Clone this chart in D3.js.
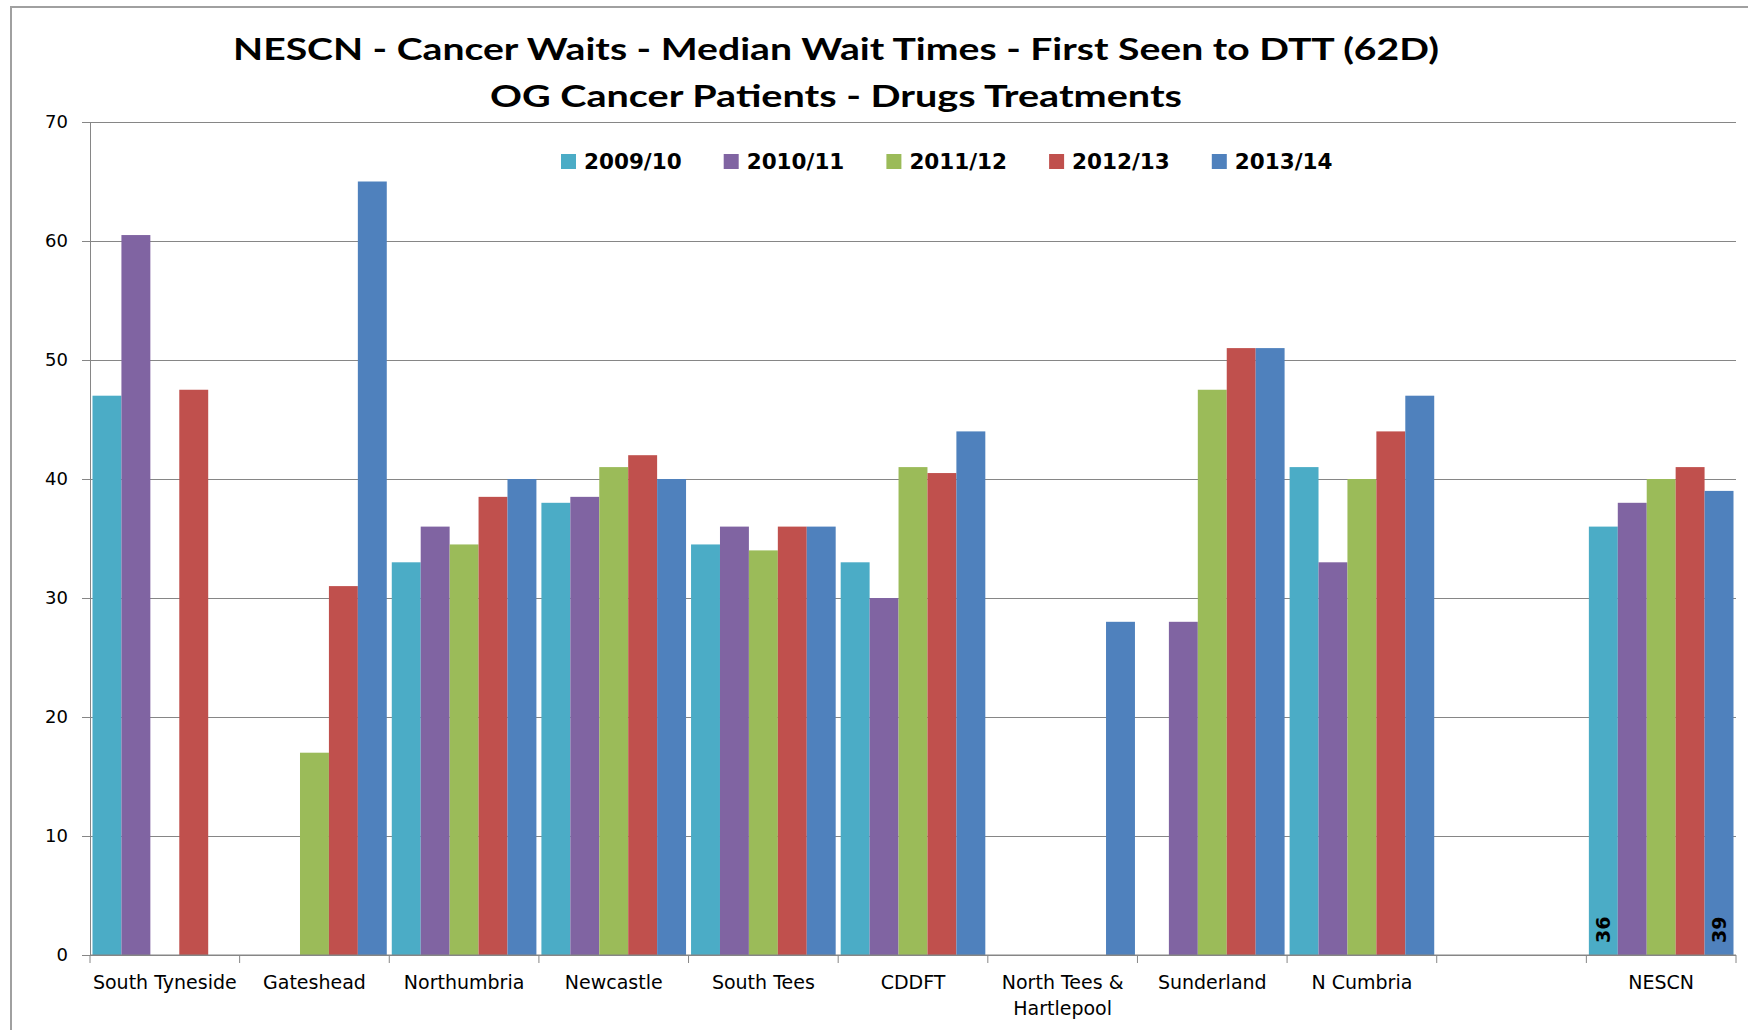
<html>
<head>
<script src="https://d3js.org/d3.v7.min.js"></script>
<style>
  body { margin: 0; background: #fff; }
  .grid line { stroke: #868686; stroke-width: 1; }
  .grid .domain { stroke: none; }
  .axis path, .axis line { stroke: #868686; }
</style>
</head>
<body>
<svg id="chart" width="1748" height="1030"></svg>
<script>
// chart data
const categories = ["South Tyneside", "Gateshead", "Northumbria", "Newcastle", "South Tees", "CDDFT",
                    "North Tees & Hartlepool", "Sunderland", "N Cumbria", "", "NESCN"];
const seriesNames = ["2009/10", "2010/11", "2011/12", "2012/13", "2013/14"];
const v2009 = [47,   null, 33,   38,   34.5, 33,   null, null, 41, null, 36];
const v2010 = [60.5, null, 36,   38.5, 36,   30,   null, 28,   33, null, 38];
const v2011 = [null, 17,   34.5, 41,   34,   41,   null, 47.5, 40, null, 40];
const v2012 = [47.5, 31,   38.5, 42,   36,   40.5, null, 51,   44, null, 41];
const v2013 = [null, 65,   40,   40,   36,   44,   28,   51,   47, null, 39];
const yTicks = [0, 10, 20, 30, 40, 50, 60, 70];
const labelledBars = [["NESCN", "2009/10"], ["NESCN", "2013/14"]];
const titleLines = ["NESCN - Cancer Waits - Median Wait Times - First Seen to DTT (62D)",
                    "OG Cancer Patients - Drugs Treatments"];
const colors = ["#4BACC6", "#8064A2", "#9BBB59", "#C0504D", "#4F81BD"];

const seriesValues = [v2009, v2010, v2011, v2012, v2013];

const svg = d3.select("#chart");
const margin = {top: 122, left: 90, right: 12, bottom: 75};
const plotRight = 1748 - margin.right;
const plotBottom = 1030 - margin.bottom;

// outer frame (left and top edges visible)
svg.append("path")
    .attr("d", "M11,1035 L11,7 L1760,7")
    .attr("fill", "none")
    .attr("stroke", "#a0a0a0")
    .attr("stroke-width", 2);

// scales
const x0 = d3.scaleBand().domain(categories).range([margin.left, plotRight]).padding(0);
const x1 = d3.scaleBand().domain(seriesNames).range([2.5, x0.bandwidth() - 2.5]).padding(0);
const y = d3.scaleLinear().domain([0, 70]).range([plotBottom, margin.top]);
const color = d3.scaleOrdinal().domain(seriesNames).range(colors);

// gridlines
svg.append("g").attr("class", "grid")
    .attr("transform", "translate(" + margin.left + ",0)")
    .call(d3.axisLeft(y).tickValues(yTicks).tickSize(-(plotRight - margin.left)).tickFormat(""));

// bars
const rows = [];
categories.forEach((c, i) => {
    seriesNames.forEach((s, j) => {
        if (seriesValues[j][i] != null) rows.push({cat: c, series: s, value: seriesValues[j][i]});
    });
});
svg.append("g").selectAll("rect")
    .data(rows)
    .join("rect")
    .attr("x", d => x0(d.cat) + x1(d.series))
    .attr("y", d => y(d.value))
    .attr("width", x1.bandwidth())
    .attr("height", d => y(0) - y(d.value))
    .attr("fill", d => color(d.series));

// data labels (rotated, inside base of bar)
const labelRows = rows.filter(d => labelledBars.some(l => l[0] === d.cat && l[1] === d.series));
svg.append("g").selectAll("text")
    .data(labelRows)
    .join("text")
    .attr("transform", d => "translate(" + (x0(d.cat) + x1(d.series) + x1.bandwidth() / 2 + 7) + "," + (y(0) - 12) + ") rotate(-90)")
    .attr("font-family", "DejaVu Sans")
    .attr("font-weight", "bold")
    .attr("font-size", 19)
    .attr("fill", "#000")
    .text(d => d.value);

// y axis
const yAxis = svg.append("g").attr("class", "axis")
    .attr("transform", "translate(" + margin.left + ",0)")
    .call(d3.axisLeft(y).tickValues(yTicks).tickSize(8).tickSizeOuter(0).tickPadding(14));
yAxis.selectAll("text")
    .attr("font-family", "DejaVu Sans")
    .attr("font-size", 18)
    .attr("fill", "#000");

// x axis: ticks at band boundaries
const xAxis = svg.append("g").attr("class", "axis");
xAxis.append("line")
    .attr("x1", margin.left).attr("x2", plotRight)
    .attr("y1", y(0)).attr("y2", y(0));
xAxis.selectAll("line.tick")
    .data(categories.map(c => x0(c)).concat([plotRight]))
    .join("line")
    .attr("class", "tick")
    .attr("x1", d => d).attr("x2", d => d)
    .attr("y1", y(0)).attr("y2", y(0) + 8);

// category labels, wrapped to the band width
const labels = svg.append("g").selectAll("text")
    .data(categories)
    .join("text")
    .attr("x", d => x0(d) + x0.bandwidth() / 2)
    .attr("y", y(0) + 34)
    .attr("text-anchor", "middle")
    .attr("font-family", "DejaVu Sans")
    .attr("font-size", 19)
    .attr("fill", "#000");
labels.each(function(d) {
    const t = d3.select(this);
    const words = d.split(" ");
    let line = [];
    let ts = t.append("tspan").attr("x", x0(d) + x0.bandwidth() / 2);
    words.forEach(w => {
        line.push(w);
        ts.text(line.join(" "));
        if (ts.node().getComputedTextLength() > x0.bandwidth() - 2 && line.length > 1) {
            line.pop();
            ts.text(line.join(" "));
            line = [w];
            ts = t.append("tspan").attr("x", x0(d) + x0.bandwidth() / 2).attr("dy", 26).text(w);
        }
    });
});

// title
const titleWidths = [1206, 692];
titleLines.forEach((line, i) => {
    svg.append("text")
        .attr("x", 836)
        .attr("y", 60 + i * 47)
        .attr("text-anchor", "middle")
        .attr("font-family", "Lato")
        .attr("font-weight", "bold")
        .attr("font-size", 31)
        .attr("textLength", titleWidths[i])
        .attr("lengthAdjust", "spacingAndGlyphs")
        .text(line);
});

// legend
const legend = svg.append("g").attr("transform", "translate(561,154)");
seriesNames.forEach((s, i) => {
    const g = legend.append("g").attr("transform", "translate(" + (i * 162.7) + ",0)");
    g.append("rect").attr("width", 15).attr("height", 15).attr("fill", color(s));
    g.append("text")
        .attr("x", 23).attr("y", 15)
        .attr("font-family", "DejaVu Sans")
        .attr("font-weight", "bold")
        .attr("font-size", 21.5)
        .attr("fill", "#000")
        .text(s);
});
</script>
</body>
</html>
